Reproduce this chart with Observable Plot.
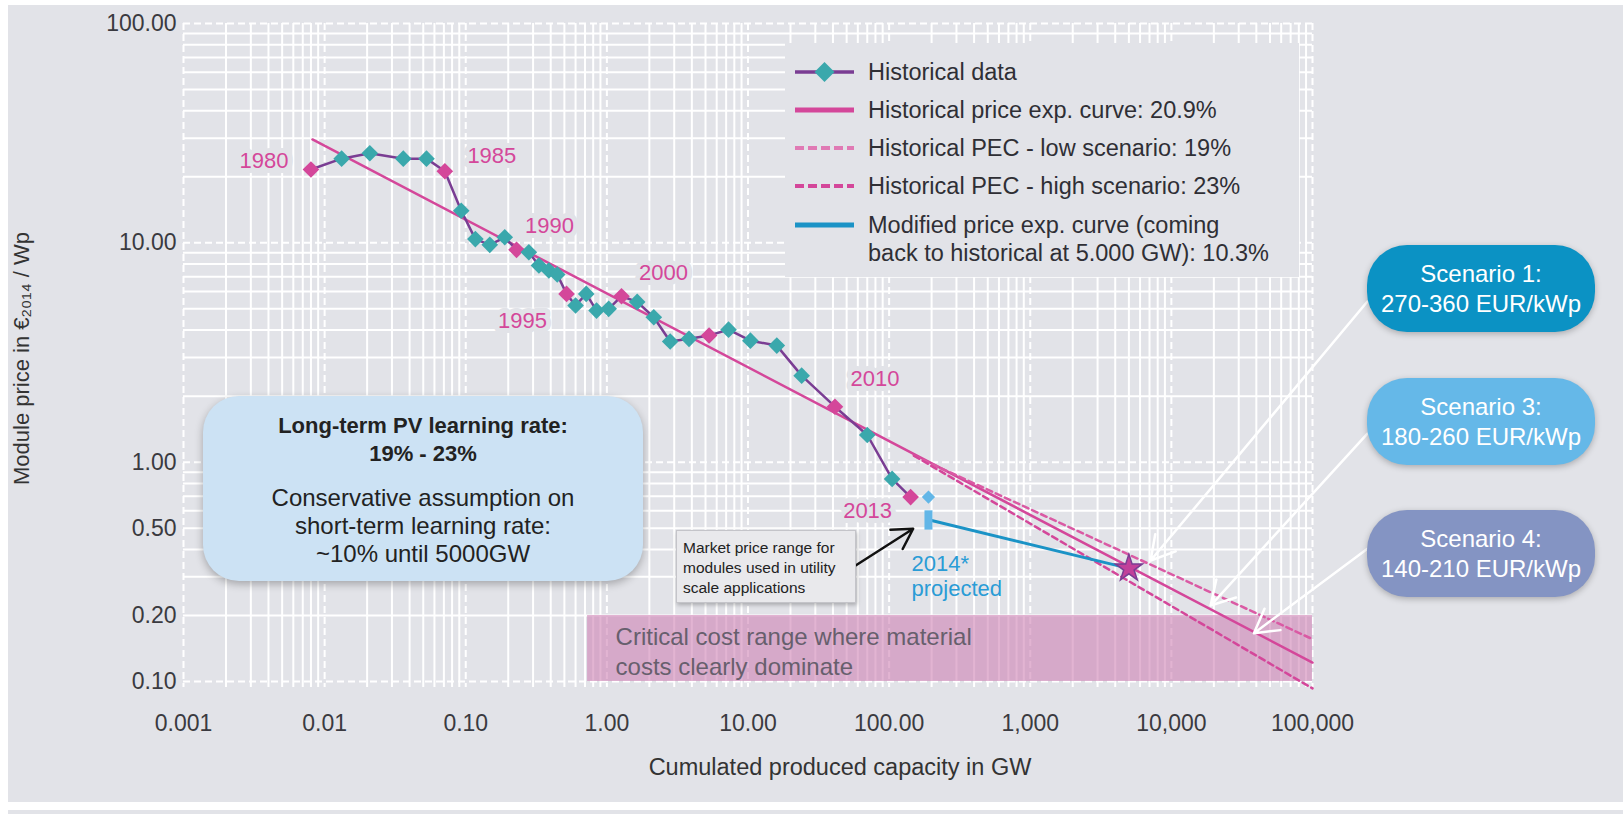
<!DOCTYPE html>
<html><head><meta charset="utf-8">
<script src="https://cdn.jsdelivr.net/npm/d3@7"></script>
<script src="https://cdn.jsdelivr.net/npm/@observablehq/plot@0.6"></script>
<style>
html,body{margin:0;padding:0;background:#fff;width:1623px;height:814px;overflow:hidden;font-family:"Liberation Sans",Arial,sans-serif;}
#bg{position:absolute;left:8px;top:5px;width:1615px;height:797px;background:#e2e3e8;overflow:hidden;}
#stage{position:absolute;left:-8px;top:-5px;width:1623px;height:814px;}
#stage svg{position:absolute;left:0;top:0;}
#strip{position:absolute;left:8px;top:810px;width:1615px;height:4px;background:#e2e3e8;}
.abs{position:absolute;box-sizing:border-box;}
#legend{left:785px;top:43px;width:514px;height:234px;background:#e2e3e8;color:#2f2f35;font-size:23.5px;}
#legend .row{position:absolute;left:10px;height:30px;line-height:30px;}
#legend .row svg{position:absolute;left:0;top:0;}
#legend .row span{position:absolute;left:73px;top:0;white-space:nowrap;}
#learn{left:203px;top:396px;width:440px;height:185px;border-radius:36px;background:#cce2f4;box-shadow:0 3px 8px rgba(0,0,0,0.28);text-align:center;color:#222;padding-top:16px;}
#learn .b{font-weight:bold;font-size:22px;line-height:28px;}
#learn .r{font-size:24px;line-height:28px;margin-top:16px;}
.scen{width:228px;height:87px;border-radius:40px;color:#fff;font-size:24px;line-height:30px;text-align:center;padding-top:14px;box-shadow:0 2px 6px rgba(0,0,0,0.25);}
#callout{left:676px;top:530px;width:180px;height:73px;background:#e9e9ec;border:1px solid #c4c4c9;box-shadow:1px 2px 4px rgba(0,0,0,0.25);font-size:15.5px;line-height:20px;color:#222;padding:7px 0 0 6px;white-space:nowrap;}
</style></head><body>
<div id="bg"><div id="stage"></div></div>
<div id="strip"></div>
<script>
// ---------- data ----------
const histYears = [1980,1981,1982,1983,1984,1985,1986,1987,1988,1989,1990,1991,1992,1993,1994,1995,1996,1997,1998,1999,2000,2001,2002,2003,2004,2005,2006,2007,2008,2009,2010,2011,2012,2013];
const histGW = [0.0080,0.0132,0.0209,0.0361,0.0527,0.0711,0.0929,0.117,0.148,0.189,0.229,0.280,0.330,0.388,0.445,0.518,0.600,0.714,0.845,1.03,1.27,1.64,2.15,2.81,3.82,5.30,7.28,10.4,16.0,24.0,41.3,70.0,105,142];
const histPrice = [21.6,24.2,25.6,24.2,24.2,21.2,14.0,10.4,9.79,10.6,9.29,9.06,7.88,7.48,7.17,5.85,5.18,5.85,4.91,5.00,5.71,5.38,4.58,3.55,3.65,3.78,4.02,3.58,3.40,2.48,1.79,1.33,0.839,0.693];
const keyYears = [1980,1985,1990,1995,2000,2005,2010,2013];
const labelYears = [1980,1985,1990,1995,2000,2010,2013];

const pecGW = [0.0082, 100000];      const pecPrice = [29.6, 0.122];   // historical PEC 20.9%
const lowGW = [150, 100000];         const lowPrice = [1.07, 0.156];   // low scenario 19%
const highGW = [150, 100000];        const highPrice = [1.07, 0.093];  // high scenario 23%
const modGW = [200, 5000];           const modPrice = [0.542, 0.328];  // modified PEC 10.3%
const targetGW = [5000];             const targetPrice = [0.328];
const proj2014GW = [190];            const proj2014Price = [0.693];
const marketLow = [0.49];            const marketHigh = [0.60];
const criticalGW = [0.73, 100000];   const criticalPrice = [0.1, 0.2];

const xTicks = [0.001,0.01,0.1,1,10,100,1000,10000,100000];
const xTickLabels = ["0.001","0.01","0.10","1.00","10.00","100.00","1,000","10,000","100,000"];
const yTicks = [0.1,0.2,0.5,1,10,100];
const yTickLabels = ["0.10","0.20","0.50","1.00","10.00","100.00"];

// ---------- derived tables ----------
const hist = histYears.map((yr,i)=>({year:yr, gw:histGW[i], price:histPrice[i], key:keyYears.includes(yr)}));
const toPts = (xs,ys)=>xs.map((x,i)=>({gw:x, price:ys[i]}));
const pec = toPts(pecGW,pecPrice), low = toPts(lowGW,lowPrice), high = toPts(highGW,highPrice), mod = toPts(modGW,modPrice);
const xLab = new Map(xTicks.map((d,i)=>[d,xTickLabels[i]]));
const yLab = new Map(yTicks.map((d,i)=>[d,yTickLabels[i]]));
const minorX=[], majorX=[], minorY=[], majorY=[];
for (let e=-3;e<=5;e++){ majorX.push(+(10**e).toPrecision(6)); if(e<5) for(let m=2;m<=9;m++) minorX.push(+(m*10**e).toPrecision(6)); }
for (let e=-1;e<=2;e++){ majorY.push(+(10**e).toPrecision(6)); if(e<2) for(let m=2;m<=9;m++) minorY.push(+(m*10**e).toPrecision(6)); }

// label offsets (annotation placement, px)
const yearOffsets = {1980:[-47,-9],1985:[47,-15],1990:[33,-24],1995:[-44,27],2000:[42,-23],2010:[40,-28],2013:[-43,14]};

// annotation arrows (data coordinates)
const calloutArrow = [{x1:57.9,y1:0.338,x2:148,y2:0.497}];
const scenarioArrows = [
  {x1:245000,y1:5.4,x2:7130,y2:0.356},
  {x1:245000,y1:1.35,x2:18970,y2:0.222},
  {x1:245000,y1:0.403,x2:38460,y2:0.166}
];

const PINK="#d4479a", TEAL="#3aa8ac", PURPLE="#7a3d93", BLUE="#1b93c6", LBLUE="#62b6e7", BG="#e2e3e8";
const FONT = '"Liberation Sans", Arial, sans-serif';

const yearLabelMarks = hist.filter(d=>labelYears.includes(d.year)).map(d=>
  Plot.text([d],{x:"gw",y:"price",text:v=>String(v.year),dx:yearOffsets[d.year][0],dy:yearOffsets[d.year][1],fill:PINK,stroke:BG,strokeWidth:10,fontSize:22})
);

const chart = Plot.plot({
  width:1623, height:814,
  marginLeft:183, marginRight:311, marginTop:23, marginBottom:133,
  style:{background:"transparent", fontFamily:FONT, fontSize:"23px", color:"#3a3a40", overflow:"visible"},
  x:{type:"log", domain:[0.001,100000]},
  y:{type:"log", domain:[0.1,100]},
  marks:[
    Plot.ruleX(minorX,{stroke:"#fff",strokeWidth:2,insetBottom:-6}),
    Plot.ruleX(majorX,{stroke:"#fff",strokeWidth:2,strokeDasharray:"7,4",insetBottom:-6}),
    Plot.ruleY(minorY,{stroke:"#fff",strokeWidth:2}),
    Plot.ruleY(majorY,{stroke:"#fff",strokeWidth:2,strokeDasharray:"7,4"}),
    ...yearLabelMarks,
    Plot.rect([0],{x1:()=>criticalGW[0],x2:()=>criticalGW[1],y1:()=>criticalPrice[0],y2:()=>criticalPrice[1],fill:"#ce82b4",fillOpacity:0.6}),
    Plot.text(["Critical cost range where material\ncosts clearly dominate"],{x:()=>criticalGW[0],y:()=>criticalPrice[0],dx:28,dy:-31,textAnchor:"start",lineAnchor:"middle",lineHeight:1.25,fontSize:24,fill:"#675f6d"}),
    Plot.axisX(xTicks,{tickFormat:d=>xLab.get(d),tickSize:0,tickPadding:33,fontSize:23,label:null}),
    Plot.axisY(yTicks,{tickFormat:d=>yLab.get(d),tickSize:0,tickPadding:7,fontSize:23,label:null}),
    Plot.text(["Cumulated produced capacity in GW"],{frameAnchor:"bottom",dx:92,dy:86,lineAnchor:"middle",fontSize:23.5,fill:"#333"}),
    Plot.text(["Module price in €₂₀₁₄ / Wp"],{frameAnchor:"left",rotate:-90,dx:-155,dy:6,lineAnchor:"bottom",textAnchor:"middle",fontSize:22,fill:"#333"}),
    Plot.line(pec,{x:"gw",y:"price",stroke:PINK,strokeWidth:2.5}),
    Plot.line(low,{x:"gw",y:"price",stroke:"#da5aa4",strokeWidth:2.5,strokeDasharray:"6,4"}),
    Plot.line(high,{x:"gw",y:"price",stroke:PINK,strokeWidth:2.5,strokeDasharray:"6,4"}),
    Plot.line(hist,{x:"gw",y:"price",stroke:PURPLE,strokeWidth:2.5}),
    Plot.dot(hist,{x:"gw",y:"price",symbol:"diamond2",r:7.5,fill:d=>d.key?PINK:TEAL,stroke:null}),
    Plot.line(mod,{x:"gw",y:"price",stroke:BLUE,strokeWidth:3}),
    Plot.ruleX(proj2014GW,{x:d=>d,y1:()=>marketLow[0],y2:()=>marketHigh[0],stroke:LBLUE,strokeWidth:8}),
    Plot.dot(proj2014GW,{x:d=>d,y:(d,i)=>proj2014Price[i],symbol:"diamond2",r:6,fill:LBLUE}),
    Plot.dot(targetGW,{x:d=>d,y:(d,i)=>targetPrice[i],symbol:"star",r:8.5,fill:"#c2409a",stroke:"#7a3d93",strokeWidth:1.5}),
    Plot.text(proj2014GW,{x:d=>d,y:()=>marketLow[0],text:()=>"2014*\nprojected",dx:-17,dy:45,textAnchor:"start",lineAnchor:"middle",lineHeight:1.14,fontSize:22,fill:"#2a9cd6"}),
    Plot.arrow(calloutArrow,{x1:"x1",y1:"y1",x2:"x2",y2:"y2",stroke:"#111",strokeWidth:2.5,headLength:14}),
    Plot.arrow(scenarioArrows,{x1:"x1",y1:"y1",x2:"x2",y2:"y2",stroke:"#fff",strokeWidth:2.5,headLength:16})
  ]
});
const stage = document.getElementById("stage");
stage.appendChild(chart);

// ---------- annotation overlays ----------
function el(html){ const t=document.createElement("template"); t.innerHTML=html.trim(); return t.content.firstChild; }
const legendItems = [
  {text:"Historical data", y:14, sym:`<line x1="0" y1="15" x2="59" y2="15" stroke="${PURPLE}" stroke-width="3.5"/><path d="M29.5 5 L39.5 15 L29.5 25 L19.5 15Z" fill="${TEAL}"/>`},
  {text:"Historical price exp. curve: 20.9%", y:52, sym:`<line x1="0" y1="15" x2="59" y2="15" stroke="${PINK}" stroke-width="5"/>`},
  {text:"Historical PEC - low scenario: 19%", y:90, sym:`<line x1="0" y1="15" x2="59" y2="15" stroke="#e07ab4" stroke-width="4" stroke-dasharray="9,4"/>`},
  {text:"Historical PEC - high scenario: 23%", y:128, sym:`<line x1="0" y1="15" x2="59" y2="15" stroke="${PINK}" stroke-width="4" stroke-dasharray="9,4"/>`},
  {text:"Modified price exp. curve (coming", y:167, sym:`<line x1="0" y1="15" x2="59" y2="15" stroke="${BLUE}" stroke-width="5"/>`},
  {text:"back to historical at 5.000 GW): 10.3%", y:195, sym:""}
];
const legend = el(`<div id="legend" class="abs"></div>`);
legendItems.forEach(it=>{
  legend.appendChild(el(`<div class="row" style="top:${it.y}px"><svg width="60" height="30">${it.sym}</svg><span>${it.text}</span></div>`));
});
stage.appendChild(legend);

stage.appendChild(el(`<div id="learn" class="abs"><div class="b">Long-term PV learning rate:<br>19% - 23%</div><div class="r">Conservative assumption on<br>short-term learning rate:<br>~10% until 5000GW</div></div>`));
stage.appendChild(el(`<div id="callout" class="abs">Market price range for<br>modules used in utility<br>scale applications</div>`));

const scenarios = [
  {name:"Scenario 1:", range:"270-360 EUR/kWp", color:"#0b92c4", top:245},
  {name:"Scenario 3:", range:"180-260 EUR/kWp", color:"#65b8e8", top:378},
  {name:"Scenario 4:", range:"140-210 EUR/kWp", color:"#8494c3", top:510}
];
scenarios.forEach(s=>{
  stage.appendChild(el(`<div class="abs scen" style="left:1367px;top:${s.top}px;background:${s.color}">${s.name}<br>${s.range}</div>`));
});
</script>
</body></html>
